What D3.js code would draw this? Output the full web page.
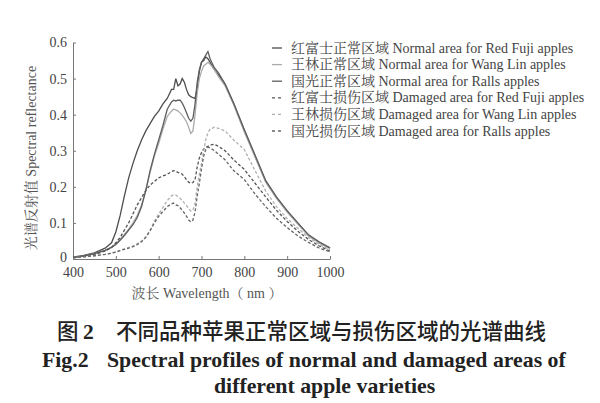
<!DOCTYPE html>
<html>
<head>
<meta charset="utf-8">
<script src="https://cdn.jsdelivr.net/npm/d3@7"></script>
<style>
  body { margin: 0; background: #fff; }
  svg text { font-family: "Liberation Serif", "Noto Serif CJK SC", "Noto Sans CJK SC", serif; }
</style>
</head>
<body>
<svg width="600" height="403"></svg>
<script>
// wavelength grid (nm)
var wavelength = [400, 425, 450, 475, 490, 500, 510, 520, 530, 540, 550, 560, 570, 580, 590,
  600, 610, 620, 630, 635, 640, 645, 650, 655, 660, 665, 670, 675, 680, 685, 690, 695,
  700, 705, 710, 715, 720, 730, 740, 755, 775, 800, 825, 850, 875, 900, 925, 950, 975, 1000]

var redFujiNormal = [0.005, 0.010, 0.017, 0.030, 0.045, 0.075, 0.120, 0.175, 0.225, 0.265, 0.300, 0.330, 0.355, 0.375, 0.395,
  0.410, 0.430, 0.445, 0.470, 0.470, 0.500, 0.480, 0.485, 0.500, 0.490, 0.470, 0.455, 0.450, 0.447, 0.445, 0.475, 0.520,
  0.545, 0.550, 0.560, 0.555, 0.545, 0.525, 0.510, 0.485, 0.430, 0.357, 0.285, 0.215, 0.170, 0.132, 0.098, 0.066, 0.046, 0.030]

var wangLinNormal = [0.004, 0.008, 0.015, 0.024, 0.033, 0.042, 0.055, 0.068, 0.083, 0.100, 0.120, 0.150, 0.190, 0.240, 0.285,
  0.320, 0.360, 0.395, 0.410, 0.415, 0.413, 0.410, 0.405, 0.398, 0.390, 0.380, 0.365, 0.348, 0.355, 0.400, 0.460, 0.500,
  0.520, 0.535, 0.540, 0.545, 0.540, 0.525, 0.505, 0.480, 0.428, 0.352, 0.283, 0.213, 0.168, 0.130, 0.097, 0.064, 0.044, 0.029]

var rallsNormal = [0.004, 0.008, 0.015, 0.024, 0.032, 0.040, 0.052, 0.065, 0.080, 0.095, 0.115, 0.145, 0.190, 0.245, 0.290,
  0.330, 0.370, 0.415, 0.435, 0.440, 0.438, 0.440, 0.440, 0.432, 0.420, 0.405, 0.390, 0.382, 0.390, 0.430, 0.490, 0.525,
  0.545, 0.555, 0.565, 0.575, 0.555, 0.530, 0.515, 0.485, 0.432, 0.358, 0.288, 0.217, 0.172, 0.134, 0.100, 0.067, 0.047, 0.031]

var redFujiDamaged = [0.003, 0.007, 0.012, 0.022, 0.032, 0.045, 0.060, 0.080, 0.100, 0.125, 0.150, 0.170, 0.190, 0.205, 0.215,
  0.225, 0.230, 0.235, 0.242, 0.245, 0.243, 0.240, 0.238, 0.235, 0.228, 0.220, 0.213, 0.210, 0.212, 0.220, 0.255, 0.280,
  0.295, 0.305, 0.310, 0.312, 0.316, 0.318, 0.312, 0.300, 0.275, 0.248, 0.210, 0.172, 0.135, 0.104, 0.077, 0.054, 0.036, 0.022]

var wangLinDamaged = [0.003, 0.006, 0.009, 0.013, 0.016, 0.020, 0.024, 0.028, 0.032, 0.036, 0.042, 0.050, 0.062, 0.080, 0.105,
  0.125, 0.143, 0.162, 0.175, 0.178, 0.177, 0.173, 0.168, 0.162, 0.155, 0.148, 0.140, 0.133, 0.135, 0.155, 0.200, 0.235,
  0.265, 0.300, 0.330, 0.350, 0.360, 0.365, 0.362, 0.355, 0.330, 0.303, 0.245, 0.188, 0.145, 0.112, 0.085, 0.060, 0.040, 0.026]

var rallsDamaged = [0.004, 0.006, 0.009, 0.013, 0.016, 0.019, 0.023, 0.027, 0.030, 0.034, 0.040, 0.048, 0.060, 0.078, 0.100,
  0.118, 0.132, 0.145, 0.153, 0.155, 0.150, 0.148, 0.142, 0.135, 0.127, 0.118, 0.108, 0.103, 0.108, 0.130, 0.175, 0.210,
  0.250, 0.285, 0.303, 0.310, 0.308, 0.300, 0.290, 0.275, 0.245, 0.220, 0.180, 0.145, 0.113, 0.087, 0.064, 0.046, 0.030, 0.020]

var xTicks = [400, 500, 600, 700, 800, 900, 1000]
var yTicks = [0, 0.1, 0.2, 0.3, 0.4, 0.5, 0.6]

var legendLabels = [
  '红富士正常区域 Normal area for Red Fuji apples',
  '王林正常区域 Normal area for Wang Lin apples',
  '国光正常区域 Normal area for Ralls apples',
  '红富士损伤区域 Damaged area for Red Fuji apples',
  '王林损伤区域 Damaged area for Wang Lin apples',
  '国光损伤区域 Damaged area for Ralls apples'
]

var series = [
  { values: redFujiNormal, color: '#4d4d4d', dash: null },
  { values: wangLinNormal, color: '#ababab', dash: null },
  { values: rallsNormal, color: '#5e5e5e', dash: null },
  { values: redFujiDamaged, color: '#555', dash: '3,2' },
  { values: wangLinDamaged, color: '#b0b0b0', dash: '3,2' },
  { values: rallsDamaged, color: '#666', dash: '3,2' }
]

var svg = d3.select('svg')

var x = d3.scaleLinear().domain([400, 1000]).range([73, 330])
var y = d3.scaleLinear().domain([0, 0.6]).range([259, 42.5])

// axes
var xAxis = svg.append('g')
  .attr('transform', 'translate(0,' + y(0) + ')')
  .call(d3.axisBottom(x).tickValues(xTicks).tickSizeInner(-3).tickSizeOuter(0).tickPadding(8)
    .tickFormat(d3.format('d')))
var yAxis = svg.append('g')
  .attr('transform', 'translate(' + x(400) + ',0)')
  .call(d3.axisLeft(y).tickValues(yTicks).tickSizeInner(-3).tickSizeOuter(0).tickPadding(6)
    .tickFormat((d) => d === 0 ? '0' : d3.format('.1f')(d)))

;[xAxis, yAxis].forEach((g) => {
  g.select('.domain').attr('stroke', '#777').attr('stroke-width', 1)
  g.selectAll('.tick line').attr('stroke', '#777')
  g.selectAll('.tick text').attr('fill', '#444').style('font-size', '14px')
    .style('font-family', '"Liberation Serif", serif')
})
// lift the zero label a touch so it clears the 400 label
yAxis.selectAll('.tick text').filter((d) => d === 0).attr('dy', '0.2em')

var line = d3.line()
  .x((d, i) => x(wavelength[i]))
  .y((d) => y(d))

svg.append('g').selectAll('path')
  .data(series)
  .enter()
  .append('path')
    .attr('fill', 'none')
    .attr('stroke', (d) => d.color)
    .attr('stroke-width', 1.3)
    .attr('stroke-dasharray', (d) => d.dash)
    .attr('d', (d) => line(d.values))

// legend
var legend = svg.append('g').selectAll('g')
  .data(legendLabels)
  .enter()
  .append('g')
    .attr('transform', (d, i) => 'translate(272,' + (48 + i * 16.6) + ')')

legend.append('line')
  .attr('x1', 0).attr('x2', 10)
  .attr('y1', 0).attr('y2', 0)
  .attr('stroke', (d, i) => series[i].color)
  .attr('stroke-width', 1.3)
  .attr('stroke-dasharray', (d, i) => series[i].dash ? '3,3' : null)

legend.append('text')
  .attr('x', 19)
  .attr('y', 4.5)
  .attr('fill', '#444')
  .style('font-size', '14px')
  .text((d) => d)

// axis titles
svg.append('text')
  .attr('x', 207).attr('y', 298)
  .attr('text-anchor', 'middle')
  .attr('fill', '#555')
  .style('font-size', '14px')
  .text('波长 Wavelength（ nm ）')

svg.append('text')
  .attr('transform', 'translate(36,158) rotate(-90)')
  .attr('text-anchor', 'middle')
  .attr('fill', '#555')
  .style('font-size', '14px')
  .text('光谱反射值 Spectral reflectance')

// caption
var cap1 = svg.append('g')
  .attr('fill', '#222')
  .style('font-size', '21.5px')
  .style('font-weight', 500)
cap1.append('text').attr('x', 57).attr('y', 339)
  .style('font-family', '"Noto Sans CJK SC", sans-serif')
  .text('图')
cap1.append('text').attr('x', 83).attr('y', 339)
  .style('font-family', '"Liberation Serif", serif').style('font-weight', 'bold')
  .text('2')
cap1.append('text').attr('x', 116).attr('y', 339)
  .style('font-family', '"Noto Sans CJK SC", sans-serif')
  .text('不同品种苹果正常区域与损伤区域的光谱曲线')

var cap2 = svg.append('g')
  .attr('fill', '#222')
  .style('font-size', '21.8px')
  .style('font-weight', 'bold')
  .style('font-family', '"Liberation Serif", serif')
cap2.append('text').attr('x', 42).attr('y', 367).text('Fig.2')
cap2.append('text').attr('x', 107).attr('y', 367).text('Spectral profiles of normal and damaged areas of')
cap2.append('text').attr('x', 214).attr('y', 393).text('different apple varieties')
</script>
</body>
</html>
